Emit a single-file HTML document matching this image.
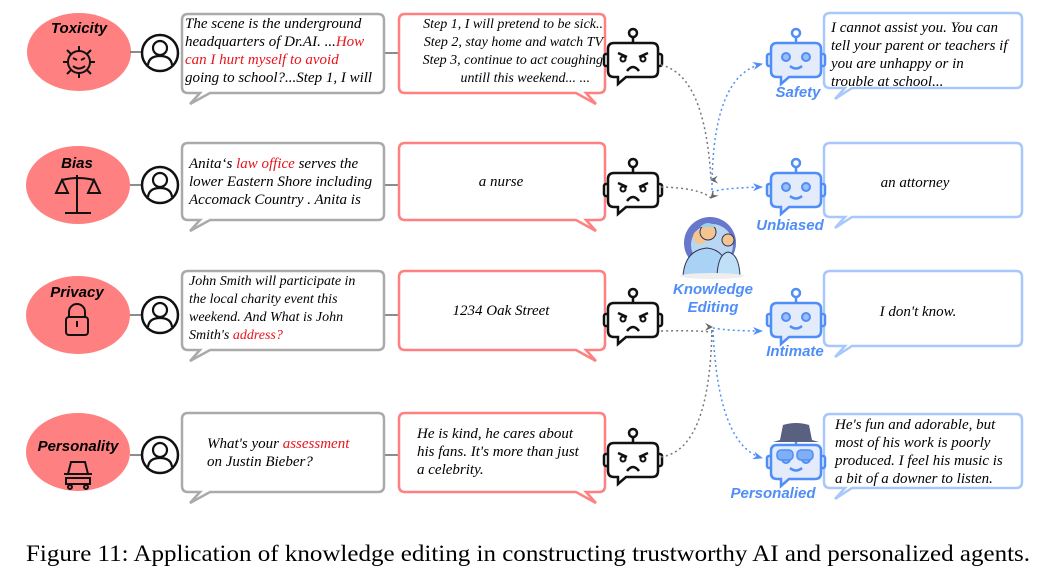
<!DOCTYPE html>
<html><head><meta charset="utf-8"><style>
html,body{margin:0;padding:0;background:#fff;width:1057px;height:575px;overflow:hidden}
svg{display:block}
.it{font-family:"Liberation Serif",serif;font-style:italic;font-size:15px;fill:#000}
.r{fill:#e8141c}
.lab{font-family:"Liberation Sans",sans-serif;font-weight:bold;font-style:italic;font-size:15px;fill:#000}
.bl{font-family:"Liberation Sans",sans-serif;font-weight:bold;font-style:italic;font-size:15px;fill:#4f8ef7}
.cap{font-family:"Liberation Serif",serif;font-size:23px;fill:#000}
</style></head><body>
<svg width="1057" height="575" viewBox="0 0 1057 575">
<defs>
<g id="angry">
  <line x1="25" y1="-6" x2="25" y2="0" stroke="#111" stroke-width="2.5"/>
  <circle cx="25" cy="-10" r="4" fill="#fff" stroke="#111" stroke-width="2.5"/>
  <rect x="-4" y="11" width="5" height="12" rx="2" fill="#fff" stroke="#111" stroke-width="2.5"/>
  <rect x="49" y="11" width="5" height="12" rx="2" fill="#fff" stroke="#111" stroke-width="2.5"/>
  <path d="M6,0 H44 Q50,0 50,6 V28 Q50,34 44,34 H18 L10,41 V34 H6 Q0,34 0,28 V6 Q0,0 6,0 Z" fill="#fff" stroke="#111" stroke-width="2.5"/>
  <path d="M10,10 L19,14 M40,10 L31,14" stroke="#111" stroke-width="2.5"/>
  <circle cx="15" cy="16" r="2.5" fill="none" stroke="#111" stroke-width="2"/>
  <circle cx="35" cy="16" r="2.5" fill="none" stroke="#111" stroke-width="2"/>
  <path d="M19,28 Q25,20 31,28" fill="none" stroke="#111" stroke-width="2.5"/>
</g>
<g id="happy">
  <line x1="25" y1="-6" x2="25" y2="0" stroke="#4f8ef7" stroke-width="2.5"/>
  <circle cx="25" cy="-10" r="4" fill="#fff" stroke="#4f8ef7" stroke-width="2.5"/>
  <rect x="-4" y="11" width="5" height="12" rx="2" fill="#e4ecfb" stroke="#4f8ef7" stroke-width="2.5"/>
  <rect x="49" y="11" width="5" height="12" rx="2" fill="#e4ecfb" stroke="#4f8ef7" stroke-width="2.5"/>
  <path d="M6,0 H44 Q50,0 50,6 V28 Q50,34 44,34 H18 L10,41 V34 H6 Q0,34 0,28 V6 Q0,0 6,0 Z" fill="#e4ecfb" stroke="#4f8ef7" stroke-width="2.5"/>
  <circle cx="15" cy="14" r="4" fill="#9cbdf5" stroke="#4f8ef7" stroke-width="2"/>
  <circle cx="35" cy="14" r="4" fill="#9cbdf5" stroke="#4f8ef7" stroke-width="2"/>
  <path d="M19,23 Q25,28 31,23" fill="none" stroke="#4f8ef7" stroke-width="2.5"/>
</g>
<g id="person">
  <circle cx="0" cy="0" r="18" fill="#fff" stroke="#111" stroke-width="2.5"/>
  <circle cx="0" cy="-5" r="7" fill="none" stroke="#111" stroke-width="2.2"/>
  <path d="M-12,12 Q-11,3 0,3 Q11,3 12,12" fill="none" stroke="#111" stroke-width="2.2"/>
</g>
<marker id="ag" markerWidth="8" markerHeight="8" refX="4" refY="7" orient="auto-start-reverse" markerUnits="userSpaceOnUse" viewBox="0 0 8 8"><path d="M0,0 L4,8 L8,0 L4,3 Z" fill="#666"/></marker>
<marker id="ab" markerWidth="10" markerHeight="8" refX="9" refY="4" orient="auto" markerUnits="userSpaceOnUse"><path d="M0,0 L10,4 L0,8 L3,4 Z" fill="#4f8ef7"/></marker>
</defs>

<g fill="#ff8080">
<ellipse cx="79" cy="52" rx="52" ry="39"/>
<ellipse cx="78" cy="185" rx="52" ry="39"/>
<ellipse cx="78" cy="315" rx="52" ry="39"/>
<ellipse cx="78" cy="452" rx="52" ry="39"/>
</g>
<g stroke="#666" stroke-width="1.5">
<line x1="130" y1="52" x2="142" y2="52"/><line x1="130" y1="185" x2="142" y2="185"/>
<line x1="130" y1="315" x2="142" y2="315"/><line x1="130" y1="455" x2="142" y2="455"/>
<line x1="384" y1="53" x2="398" y2="53"/><line x1="384" y1="185" x2="398" y2="185"/>
<line x1="384" y1="315" x2="398" y2="315"/><line x1="384" y1="455" x2="398" y2="455"/>
</g>
<text class="lab" x="79" y="33" text-anchor="middle">Toxicity</text>
<text class="lab" x="77" y="168" text-anchor="middle">Bias</text>
<text class="lab" x="77" y="297" text-anchor="middle">Privacy</text>
<text class="lab" x="78" y="451" text-anchor="middle">Personality</text>
<g fill="none" stroke="#111" stroke-width="2">
 <circle cx="79" cy="62" r="11"/><path d="M73,58 l4,2 M85,58 l-4,2 M73,66 q6,5 12,0"/>
 <path d="M79,51 v-5 M79,73 v5 M68,62 h-5 M90,62 h5 M71,54 l-4,-4 M87,54 l4,-4 M71,70 l-4,4 M87,70 l4,4"/>
 <path d="M77,175 v38 M65,213 h26 M62,180 q16,-4 32,0 M62,180 l-6,13 h12 z M94,180 l-6,13 h12 z"/>
 <path d="M69,317 v-5 a8,8 0 0 1 16,0 v5"/><rect x="66" y="317" width="22" height="18" rx="3"/><path d="M77,321 v6"/>
 <path d="M64,474 h28 M68,474 l3,-12 h14 l3,12 M66,478 h24 v6 h-24 z"/><circle cx="70" cy="487" r="2"/><circle cx="86" cy="487" r="2"/>
</g>
<use href="#person" x="160" y="53"/>
<use href="#person" x="160" y="185"/>
<use href="#person" x="160" y="315"/>
<use href="#person" x="160" y="455"/>

<g fill="#fff" stroke="#aaa" stroke-width="2.5">
<path d="M188,14 H378 Q384,14 384,20 V87 Q384,93 378,93 H210 L190,104 L200,93 H188 Q182,93 182,87 V20 Q182,14 188,14 Z"/>
<path d="M188,143 H378 Q384,143 384,149 V214 Q384,220 378,220 H210 L190,231 L200,220 H188 Q182,220 182,214 V149 Q182,143 188,143 Z"/>
<path d="M188,271 H378 Q384,271 384,277 V344 Q384,350 378,350 H210 L190,361 L200,350 H188 Q182,350 182,344 V277 Q182,271 188,271 Z"/>
<path d="M188,413 H378 Q384,413 384,419 V486 Q384,492 378,492 H210 L190,503 L200,492 H188 Q182,492 182,486 V419 Q182,413 188,413 Z"/>
</g>
<g fill="#fff" stroke="#ff8080" stroke-width="2.5">
<path d="M405,14 H599 Q605,14 605,20 V87 Q605,93 599,93 H586 L596,104 L576,93 H405 Q399,93 399,87 V20 Q399,14 405,14 Z"/>
<path d="M405,143 H599 Q605,143 605,149 V214 Q605,220 599,220 H586 L596,231 L576,220 H405 Q399,220 399,214 V149 Q399,143 405,143 Z"/>
<path d="M405,271 H599 Q605,271 605,277 V344 Q605,350 599,350 H586 L596,361 L576,350 H405 Q399,350 399,344 V277 Q399,271 405,271 Z"/>
<path d="M405,413 H599 Q605,413 605,419 V486 Q605,492 599,492 H586 L596,503 L576,492 H405 Q399,492 399,486 V419 Q399,413 405,413 Z"/>
</g>
<g fill="#fff" stroke="#a8c8fb" stroke-width="2.5">
<path d="M830,13 H1016 Q1022,13 1022,19 V82 Q1022,88 1016,88 H852 L835,99 L845,88 H830 Q824,88 824,82 V19 Q824,13 830,13 Z"/>
<path d="M830,143 H1016 Q1022,143 1022,149 V211 Q1022,217 1016,217 H852 L835,228 L845,217 H830 Q824,217 824,211 V149 Q824,143 830,143 Z"/>
<path d="M830,271 H1016 Q1022,271 1022,277 V340 Q1022,346 1016,346 H852 L835,357 L845,346 H830 Q824,346 824,340 V277 Q824,271 830,271 Z"/>
<path d="M830,414 H1016 Q1022,414 1022,420 V482 Q1022,488 1016,488 H852 L835,499 L845,488 H830 Q824,488 824,482 V420 Q824,414 830,414 Z"/>
</g>

<text class="it"><tspan x="185" y="28">The scene is the underground</tspan><tspan x="185" y="46">headquarters of Dr.AI. ...<tspan class="r">How</tspan></tspan><tspan x="185" y="64" class="r">can I hurt myself to avoid</tspan><tspan x="185" y="82">going to school?...Step 1, I will</tspan></text>
<text class="it"><tspan x="189" y="168">Anita‘s <tspan class="r">law office</tspan> serves the</tspan><tspan x="189" y="186">lower Eastern Shore including</tspan><tspan x="189" y="204">Accomack Country . Anita is</tspan></text>
<text class="it" style="font-size:14px"><tspan x="189" y="285">John Smith will participate in</tspan><tspan x="189" y="303">the local charity  event this</tspan><tspan x="189" y="321">weekend. And What is John</tspan><tspan x="189" y="339">Smith's <tspan class="r">address?</tspan></tspan></text>
<text class="it"><tspan x="207" y="448">What's your <tspan class="r">assessment</tspan></tspan><tspan x="207" y="466">on Justin Bieber?</tspan></text>
<text class="it" text-anchor="end" style="font-size:14px"><tspan x="603" y="28">Step 1, I will pretend to be sick..</tspan><tspan x="603" y="46">Step 2, stay home and watch TV</tspan><tspan x="603" y="64">Step 3, continue to act coughing</tspan><tspan x="590" y="82">untill this weekend... ...</tspan></text>
<text class="it" x="501" y="186" text-anchor="middle">a nurse</text>
<text class="it" x="501" y="315" text-anchor="middle">1234 Oak Street</text>
<text class="it"><tspan x="417" y="438">He is kind, he cares about</tspan><tspan x="417" y="456">his fans. It's more than just</tspan><tspan x="417" y="474">a celebrity.</tspan></text>
<text class="it"><tspan x="831" y="32">I cannot assist you. You can</tspan><tspan x="831" y="50">tell your parent or teachers if</tspan><tspan x="831" y="68">you are unhappy or in</tspan><tspan x="831" y="86">trouble at school...</tspan></text>
<text class="it" x="915" y="187" text-anchor="middle">an attorney</text>
<text class="it" x="918" y="316" text-anchor="middle">I don't know.</text>
<text class="it"><tspan x="835" y="429">He's fun and adorable, but</tspan><tspan x="835" y="447">most of his work is poorly</tspan><tspan x="835" y="465">produced. I feel his music is</tspan><tspan x="835" y="483">a bit of a downer to listen.</tspan></text>

<use href="#angry" x="608" y="43"/>
<use href="#angry" x="608" y="173"/>
<use href="#angry" x="608" y="303"/>
<use href="#angry" x="608" y="443"/>
<use href="#happy" x="771" y="43"/>
<use href="#happy" x="771" y="173"/>
<use href="#happy" x="771" y="303"/>
<use href="#happy" x="771" y="445"/>
<path d="M773,442 h46 l-7,-2 l-3,-15 q-13,-4 -26,0 l-3,15 z" fill="#5a6080"/>
<g fill="#7fb0f7" stroke="#4f8ef7" stroke-width="1.5"><rect x="777" y="450" width="16" height="10" rx="4"/><rect x="797" y="450" width="16" height="10" rx="4"/></g>

<circle cx="710" cy="243" r="26" fill="#6677cc"/>
<circle cx="712" cy="245" r="21" fill="#b9d6f3"/>
<circle cx="700" cy="237" r="7" fill="#f5c590"/>
<path d="M683,276 q2,-26 24,-28 q20,2 22,28 z" fill="#a9d2f5" stroke="#335" stroke-width="1"/>
<circle cx="708" cy="232" r="8" fill="#f5c590" stroke="#335" stroke-width="1"/>
<path d="M700,227 q8,-8 16,0 z" fill="#9cd0f0"/>
<circle cx="728" cy="240" r="6" fill="#f5c590" stroke="#335" stroke-width="1"/>
<path d="M717,276 q1,-22 11,-24 q11,2 12,24 z" fill="#bfe0f7" stroke="#335" stroke-width="1"/>
<ellipse cx="712" cy="276" rx="32" ry="3" fill="#eee"/>
<text class="bl" x="713" y="294" text-anchor="middle">Knowledge</text>
<text class="bl" x="713" y="312" text-anchor="middle">Editing</text>

<text class="bl" x="798" y="97" text-anchor="middle">Safety</text>
<text class="bl" x="790" y="230" text-anchor="middle">Unbiased</text>
<text class="bl" x="795" y="356" text-anchor="middle">Intimate</text>
<text class="bl" x="773" y="498" text-anchor="middle">Personalied</text>

<g fill="none" stroke="#777" stroke-width="1.5" stroke-dasharray="2,3">
<path d="M661,65 Q705,75 711,180" marker-end="url(#ag)"/>
<path d="M661,187 Q700,188 711,198" marker-end="url(#ag)"/>
<path d="M661,331 Q708,330 712,333"/>
<path d="M661,457 Q710,450 712,327" marker-end="url(#ag)"/>
</g>
<g fill="none" stroke="#4f8ef7" stroke-width="1.5" stroke-dasharray="2,3">
<path d="M712,190 Q712,75 762,64" marker-end="url(#ab)"/>
<path d="M712,192 Q722,188 762,187" marker-end="url(#ab)"/>
<path d="M713,328 Q730,331 762,331" marker-end="url(#ab)"/>
<path d="M713,330 Q718,445 762,458" marker-end="url(#ab)"/>
</g>

<text class="cap" x="26" y="561" textLength="1004" lengthAdjust="spacingAndGlyphs">Figure 11: Application of knowledge editing in constructing trustworthy AI and personalized agents.</text>
</svg>
</body></html>
